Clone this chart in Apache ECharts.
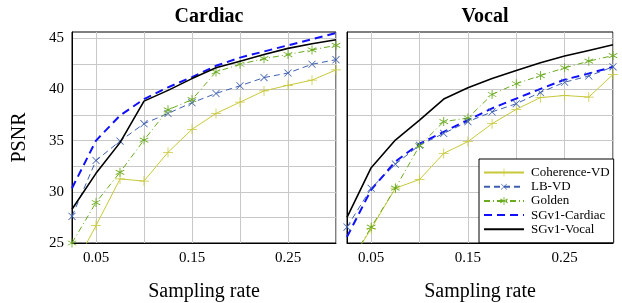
<!DOCTYPE html>
<html>
<head>
<meta charset="utf-8">
<script src="https://cdn.jsdelivr.net/npm/echarts@6/dist/echarts.min.js"></script>
<style>
  html, body { margin: 0; padding: 0; background: #fff; }
  #chart { width: 622px; height: 303px; }
</style>
</head>
<body>
<div id="chart"></div>
<script>
// sampling rates (x categories)
const rates = ['0.025', '0.05', '0.075', '0.1', '0.125', '0.15', '0.175', '0.2', '0.225', '0.25', '0.275', '0.3'];
const xTickLabels = ['0.05', '0.15', '0.25'];
const yTickLabels = [25, 30, 35, 40, 45];

// Cardiac panel
const cardiacCoherence = [22.3, 26.7, 31.25, 31.05, 33.85, 36.1, 37.65, 38.75, 39.85, 40.4, 40.9, 41.9];
const cardiacLB = [27.6, 33.05, 34.95, 36.65, 37.65, 38.7, 39.6, 40.35, 41.15, 41.6, 42.45, 42.9];
const cardiacGolden = [25.0, 28.95, 31.9, 35.05, 38.0, 39.0, 41.7, 42.45, 43.0, 43.4, 43.85, 44.3];
const cardiacSGCardiac = [30.35, 35.0, 37.45, 39.05, 40.2, 41.2, 42.3, 43.1, 43.7, 44.3, 44.9, 45.5];
const cardiacSGVocal = [28.3, 31.8, 34.8, 38.85, 39.9, 41.05, 42.1, 42.75, 43.4, 44.0, 44.45, 44.85];

// Vocal panel
const vocalCoherence = [22.6, 26.4, 30.35, 31.2, 33.75, 34.9, 36.65, 38.05, 39.2, 39.4, 39.25, 41.45];
const vocalLB = [26.55, 30.35, 32.7, 34.55, 35.7, 36.85, 37.8, 38.6, 39.7, 40.7, 41.3, 42.2];
const vocalGolden = [22.6, 26.55, 30.35, 34.5, 36.85, 37.2, 39.5, 40.55, 41.35, 42.1, 42.75, 43.3];
const vocalSGCardiac = [25.6, 30.2, 32.95, 34.7, 35.85, 37.0, 38.15, 39.1, 40.05, 40.95, 41.55, 42.2];
const vocalSGVocal = [27.5, 32.35, 35.05, 37.0, 39.05, 40.15, 41.05, 41.85, 42.6, 43.25, 43.8, 44.35];

const names = ['Coherence-VD', 'LB-VD', 'Golden', 'SGv1-Cardiac', 'SGv1-Vocal'];

const FONT = '"Liberation Serif", "DejaVu Serif", serif';

// marker shapes
const plusPath = 'path://M-0.6,-8L0.6,-8L0.6,-0.6L8,-0.6L8,0.6L0.6,0.6L0.6,8L-0.6,8L-0.6,0.6L-8,0.6L-8,-0.6L-0.6,-0.6Z';
const asteriskPath = 'path://M-0.7,-8L0.7,-8L0.7,8L-0.7,8Z M6.58,-4.62L7.28,-3.41L-6.58,4.62L-7.28,3.41Z M-7.28,-3.41L-6.58,-4.62L7.28,3.41L6.58,4.62Z';

const styles = [
  { color: '#c8c83a', symbol: plusPath, symbolSize: 10, rotate: 0, width: 1, type: 'solid' },
  { color: '#3f5fb0', symbol: plusPath, symbolSize: 10, rotate: 45, width: 1, type: [6, 4] },
  { color: '#6aaa1e', symbol: asteriskPath, symbolSize: 9, rotate: 0, width: 1, type: [6, 3, 1, 3] },
  { color: '#1010ff', symbol: 'none', symbolSize: 0, rotate: 0, width: 2, type: [8, 5] },
  { color: '#000000', symbol: 'none', symbolSize: 0, rotate: 0, width: 1.6, type: 'solid' }
];

function makeSeries(datas, gi) {
  return datas.map((d, i) => {
    const s = styles[i];
    return {
      name: names[i],
      type: 'line',
      xAxisIndex: gi,
      yAxisIndex: gi,
      data: d,
      symbol: s.symbol,
      symbolSize: s.symbolSize,
      symbolRotate: s.rotate,
      showSymbol: s.symbol !== 'none',
      clip: true,
      z: i === 4 ? 5 : 3,
      lineStyle: { color: s.color, width: s.width, type: s.type },
      itemStyle: { color: s.color }
    };
  });
}

function xAxisFor(gi) {
  return {
    type: 'category',
    gridIndex: gi,
    data: rates,
    boundaryGap: false,
    axisLine: { show: true, lineStyle: { color: '#000', width: 1 } },
    axisTick: { show: false },
    axisLabel: {
      interval: 0,
      margin: 8,
      fontFamily: FONT,
      fontSize: 15,
      color: '#000',
      formatter: v => xTickLabels.indexOf(v) >= 0 ? v : ''
    },
    splitLine: {
      show: true,
      interval: (idx) => idx % 2 === 1,
      lineStyle: { color: '#c8c8c8', width: 1 }
    },
    name: 'Sampling rate',
    nameLocation: 'middle',
    nameGap: 39,
    nameTextStyle: { fontFamily: FONT, fontSize: 20, color: '#000' }
  };
}

function yAxisFor(gi) {
  const ax = {
    type: 'value',
    gridIndex: gi,
    min: 25,
    max: 45.6,
    interval: 2.5,
    axisLine: { show: true, lineStyle: { color: '#000', width: 1 } },
    axisTick: { show: false },
    axisLabel: {
      show: gi === 0,
      margin: 8,
      fontFamily: FONT,
      fontSize: 15,
      color: '#000',
      formatter: v => yTickLabels.indexOf(Math.round(v * 100) / 100) >= 0 ? String(Math.round(v)) : ''
    },
    splitLine: { show: true, showMaxLine: false, lineStyle: { color: '#c8c8c8', width: 1 } }
  };
  if (gi === 0) {
    ax.name = 'PSNR';
    ax.nameLocation = 'middle';
    ax.nameGap = 42;
    ax.nameTextStyle = { fontFamily: FONT, fontSize: 20, color: '#000' };
  }
  return ax;
}

const chart = echarts.init(document.getElementById('chart'), null, { renderer: 'canvas' });

// legend entries; the two plain lines get no marker
const legendData = names.map((n, i) => styles[i].symbol === 'none'
  ? { name: n, itemStyle: { opacity: 0 } }
  : { name: n });

const option = {
  animation: false,
  backgroundColor: '#fff',
  title: [
    { text: 'Cardiac', left: 204, top: 2, textAlign: 'center',
      textStyle: { fontFamily: FONT, fontSize: 20, fontWeight: 'bold', color: '#000' } },
    { text: 'Vocal', left: 480, top: 2, textAlign: 'center',
      textStyle: { fontFamily: FONT, fontSize: 20, fontWeight: 'bold', color: '#000' } }
  ],
  grid: [
    { left: 72, top: 32, width: 264, height: 211, outerBoundsMode: 'none', show: true, borderColor: '#000', borderWidth: 1, backgroundColor: 'transparent' },
    { left: 347, top: 32, width: 266, height: 211, outerBoundsMode: 'none', show: true, borderColor: '#000', borderWidth: 1, backgroundColor: 'transparent' }
  ],
  legend: {
    data: legendData,
    orient: 'vertical',
    left: 479,
    top: 159,
    itemWidth: 40,
    itemHeight: 10,
    itemGap: 1.2,
    padding: [7, 4, 7, 4],
    backgroundColor: '#fff',
    borderColor: '#000',
    borderWidth: 1,
    borderRadius: 0,
    z: 10,
    textStyle: { fontFamily: FONT, fontSize: 13, color: '#000', padding: [0, 0, 0, 2] }
  },
  xAxis: [xAxisFor(0), xAxisFor(1)],
  yAxis: [yAxisFor(0), yAxisFor(1)],
  series: makeSeries([cardiacCoherence, cardiacLB, cardiacGolden, cardiacSGCardiac, cardiacSGVocal], 0)
    .concat(makeSeries([vocalCoherence, vocalLB, vocalGolden, vocalSGCardiac, vocalSGVocal], 1))
};

chart.setOption(option);
</script>
</body>
</html>
